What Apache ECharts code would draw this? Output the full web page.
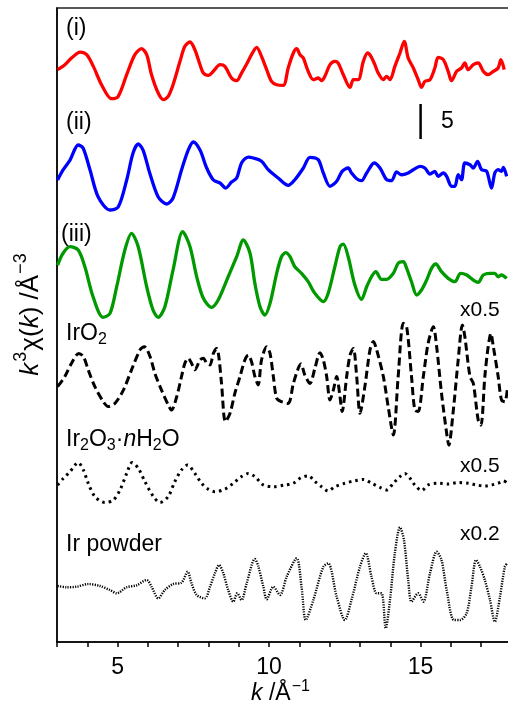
<!DOCTYPE html>
<html>
<head>
<meta charset="utf-8">
<script src="https://cdn.jsdelivr.net/npm/echarts@6/dist/echarts.min.js"></script>
<style>
  html, body { margin: 0; padding: 0; background: #fff; }
  #chart { width: 508px; height: 706px; }
</style>
</head>
<body>
<div id="chart"></div>
<script>
// k-space EXAFS spectra, k^3 chi(k); each entry is [k (1/Å), k^3 chi (Å^-3)]
const sampleI = [
  [3.02,0.05],[3.26,0.76],[3.48,1.71],[3.76,2.57],[3.98,2.19],[4.20,0.52],[4.47,-2.10],[4.80,-4.10],[5.02,-3.76],[5.30,-0.67],
  [5.57,2.19],[5.79,3.05],[5.96,2.19],[6.12,-0.67],[6.34,-3.29],[6.51,-4.24],[6.67,-3.76],[6.83,-2.10],[7.06,1.24],[7.22,3.38],
  [7.39,4.00],[7.55,2.90],[7.72,0.76],[7.83,-0.43],[7.99,-0.76],[8.16,-0.19],[8.38,0.76],[8.54,0.52],[8.76,-1.14],[8.93,-1.52],
  [9.09,-0.43],[9.26,0.86],[9.42,2.19],[9.59,3.24],[9.75,1.95],[9.92,0.05],[10.08,-1.62],[10.25,-2.10],[10.47,-2.19],[10.63,0.29],
  [10.80,2.43],[10.91,3.05],[11.02,2.19],[11.13,1.71],[11.29,-0.19],[11.46,-1.38],[11.62,-1.14],[11.73,-1.52],[11.84,-0.90],[12.01,0.76],
  [12.17,1.24],[12.28,1.00],[12.45,-0.67],[12.67,-2.48],[12.78,-1.38],[12.94,-1.38],[13.11,1.24],[13.25,2.43],[13.36,1.95],[13.49,0.76],
  [13.60,-0.43],[13.77,-1.38],[13.88,-0.90],[13.99,-1.38],[14.15,0.52],[14.32,2.43],[14.46,4.10],[14.59,1.71],[14.76,0.29],[14.92,-1.38],
  [15.03,-2.48],[15.14,-1.62],[15.31,-1.38],[15.47,0.29],[15.58,1.81],[15.75,1.48],[15.91,-0.19],[16.02,-1.52],[16.19,-0.19],[16.35,0.29],
  [16.46,1.00],[16.57,0.05],[16.74,0.76],[16.90,1.00],[17.07,-0.19],[17.23,-0.67],[17.40,-0.19],[17.56,0.29],[17.65,1.48],[17.76,0.05]
];
const sampleII = [
  [3.02,-0.14],[3.20,1.29],[3.43,2.71],[3.70,4.86],[3.86,4.43],[4.09,1.29],[4.36,-2.57],[4.75,-4.43],[5.02,-4.00],[5.30,-0.14],
  [5.51,3.71],[5.68,5.00],[5.84,4.14],[6.06,0.86],[6.34,-2.57],[6.62,-3.57],[6.83,-2.71],[7.11,1.29],[7.33,4.14],[7.50,5.29],
  [7.72,4.14],[7.94,1.57],[8.16,-0.14],[8.38,-0.57],[8.57,-1.29],[8.76,-0.43],[8.93,0.14],[9.09,2.29],[9.31,3.14],[9.48,3.00],
  [9.75,2.53],[9.97,1.33],[10.30,0.14],[10.63,-0.90],[10.85,-0.10],[11.13,1.57],[11.35,3.10],[11.62,2.76],[11.79,0.86],[12.01,-1.04],
  [12.23,-0.33],[12.41,1.10],[12.61,1.57],[12.72,0.86],[12.89,0.04],[13.05,-0.24],[13.22,0.86],[13.47,2.29],[13.66,1.57],[13.88,-0.10],
  [14.04,-0.24],[14.21,1.00],[14.37,0.61],[14.59,0.86],[14.76,1.33],[14.98,1.81],[15.14,1.57],[15.31,0.71],[15.47,1.10],[15.58,0.39],
  [15.75,0.86],[15.86,0.39],[16.02,-1.04],[16.13,-1.04],[16.24,0.61],[16.35,-0.10],[16.46,2.29],[16.63,2.04],[16.74,1.57],[16.88,2.53],
  [17.01,1.33],[17.18,1.10],[17.34,-1.29],[17.45,0.86],[17.56,1.33],[17.67,1.10],[17.73,1.67],[17.84,0.39]
];
const sampleIII = [
  [3.02,0.71],[3.20,2.39],[3.43,3.33],[3.70,2.86],[3.92,0.47],[4.19,-3.81],[4.52,-6.76],[4.75,-6.19],[4.97,-2.39],[5.24,2.86],
  [5.46,5.24],[5.68,3.33],[5.96,-2.39],[6.17,-5.71],[6.34,-6.76],[6.56,-5.24],[6.83,0.00],[7.15,5.47],[7.39,3.33],[7.61,-0.96],
  [7.83,-4.04],[8.10,-5.33],[8.32,-4.29],[8.65,-0.96],[8.93,1.90],[9.15,4.29],[9.37,2.39],[9.53,-1.90],[9.70,-5.24],[9.86,-6.43],
  [10.03,-4.76],[10.25,-0.47],[10.41,1.90],[10.55,2.47],[10.69,1.90],[10.85,0.47],[11.07,-0.47],[11.29,-1.67],[11.51,-3.33],[11.79,-4.53],
  [11.95,-3.33],[12.17,0.47],[12.34,3.33],[12.45,3.71],[12.61,1.90],[12.83,-2.14],[13.05,-4.19],[13.22,-2.39],[13.38,-0.96],[13.52,-0.24],
  [13.71,-1.33],[13.88,-1.33],[14.10,-0.47],[14.26,0.96],[14.43,1.19],[14.54,0.24],[14.70,-1.67],[14.87,-3.57],[15.03,-2.86],[15.20,-1.43],
  [15.36,0.24],[15.50,0.86],[15.69,-0.24],[15.91,-1.19],[16.13,-1.67],[16.32,-0.47],[16.52,-0.71],[16.74,-1.43],[16.90,-1.76],[17.07,-0.71],
  [17.29,-0.47],[17.45,-0.47],[17.56,-0.96],[17.67,-0.71],[17.84,-1.19]
];
const refIrO2 = [
  [3.02,-1.9],[3.26,1.0],[3.48,4.8],[3.72,7.6],[3.87,6.7],[4.03,2.9],[4.25,-1.9],[4.53,-6.2],[4.69,-7.6],[4.91,-6.7],
  [5.19,-2.9],[5.46,2.9],[5.74,8.6],[5.88,9.5],[6.07,6.7],[6.23,1.9],[6.45,-2.9],[6.67,-7.1],[6.78,-8.6],[6.95,-4.8],
  [7.11,1.0],[7.22,4.8],[7.33,6.2],[7.44,4.8],[7.55,2.9],[7.72,5.7],[7.83,6.2],[7.94,4.8],[8.05,4.3],[8.16,7.6],
  [8.27,9.0],[8.34,6.7],[8.43,-1.0],[8.56,-11.9],[8.71,-9.5],[8.87,-3.8],[9.04,1.0],[9.20,5.7],[9.31,7.1],[9.42,5.2],
  [9.53,1.0],[9.64,-1.4],[9.75,5.7],[9.92,9.5],[10.03,7.6],[10.14,1.0],[10.25,-5.2],[10.41,-6.2],[10.63,-6.7],[10.80,-1.0],
  [10.96,3.3],[11.05,4.6],[11.18,1.4],[11.35,-1.0],[11.51,3.3],[11.68,7.8],[11.79,5.7],[11.90,1.0],[12.01,-5.7],[12.12,-2.9],
  [12.23,1.0],[12.34,-4.8],[12.41,-9.0],[12.56,1.0],[12.67,7.1],[12.78,9.0],[12.89,1.0],[13.00,-9.5],[13.16,-1.9],[13.33,8.6],
  [13.44,11.0],[13.55,8.6],[13.77,1.0],[13.93,-7.6],[14.10,-15.7],[14.26,1.0],[14.43,16.2],[14.54,15.2],[14.70,1.0],[14.81,-8.6],
  [14.92,-9.0],[15.09,1.0],[15.25,10.5],[15.42,15.2],[15.53,9.5],[15.69,-3.8],[15.86,-15.2],[15.93,-18.6],[16.08,-8.6],[16.24,5.7],
  [16.38,15.7],[16.46,12.4],[16.63,1.0],[16.74,-1.0],[16.90,-11.4],[16.99,-12.9],[17.12,1.0],[17.23,9.5],[17.32,13.3],[17.40,9.5],
  [17.56,1.0],[17.67,-5.7],[17.78,-6.2],[17.87,-1.9]
];
const refIr2O3 = [
  [3.02,0],[3.21,1.9],[3.43,3.8],[3.70,6.4],[3.87,4.3],[4.03,0.5],[4.25,-3.3],[4.58,-5.0],[4.86,-4.3],[5.08,-1.4],
  [5.30,3.3],[5.48,6.4],[5.68,4.8],[5.90,1.0],[6.18,-3.3],[6.40,-5.0],[6.67,-3.3],[6.89,1.0],[7.11,4.3],[7.31,5.7],
  [7.55,3.3],[7.77,0.5],[7.99,-1.2],[8.21,-1.9],[8.54,-1.2],[8.82,0.5],[9.09,2.4],[9.31,3.3],[9.53,2.4],[9.81,0],
  [10.14,-0.5],[10.52,0],[10.80,0.5],[11.07,2.2],[11.29,2.6],[11.51,1.0],[11.73,-0.5],[11.95,-1.7],[12.17,-0.5],[12.50,0.5],
  [12.83,1.2],[13.11,1.6],[13.38,0.5],[13.66,-0.7],[13.88,-1.4],[14.10,0.5],[14.32,2.4],[14.48,3.3],[14.65,1.9],[14.81,0],
  [15.03,-1.6],[15.25,0],[15.58,0.5],[15.91,0.3],[16.24,0.7],[16.57,0.5],[16.85,0],[17.12,-0.3],[17.34,0],[17.56,0.5],
  [17.73,1.2],[17.84,0.7]
];
const refIrPowder = [
  [3.02,0],[3.32,-0.9],[3.65,-0.5],[4.03,1.4],[4.42,0],[4.75,-2.9],[4.97,-5.2],[5.30,-0.9],[5.63,0.5],[5.96,4.3],
  [6.12,-0.5],[6.34,-8.8],[6.56,-2.9],[6.83,1.4],[7.11,2.4],[7.31,10.2],[7.44,1.9],[7.61,-6.4],[7.88,-8.8],[8.05,-0.5],
  [8.21,9.0],[8.35,15.0],[8.49,9.0],[8.65,-2.9],[8.82,-11.2],[8.95,-5.2],[9.09,-10.0],[9.26,1.9],[9.53,19.3],[9.64,14.3],
  [9.81,-0.5],[9.92,-9.5],[10.14,-0.5],[10.36,-6.4],[10.58,6.6],[10.91,19.8],[11.07,-0.5],[11.21,-24.3],[11.46,-10.0],[11.79,13.8],
  [11.95,16.2],[12.23,-7.6],[12.50,-24.3],[12.72,-10.0],[13.00,13.8],[13.19,23.4],[13.38,6.6],[13.55,-5.2],[13.71,-5.2],[13.85,-30.2],
  [13.99,-10.0],[14.15,23.4],[14.32,41.9],[14.45,32.9],[14.59,4.3],[14.70,-11.2],[14.92,-5.2],[15.09,-11.2],[15.31,9.0],[15.53,24.5],
  [15.69,18.6],[15.86,-2.9],[16.10,-24.3],[16.30,-24.3],[16.52,-19.5],[16.68,-0.5],[16.83,18.6],[16.96,13.8],[17.12,4.3],[17.29,-10.0],
  [17.45,-25.5],[17.62,-7.6],[17.78,13.8],[17.86,16.2]
];

// vertical stacking offsets and display multipliers
const offsets = [81.71, 66.14, 53.14, 37.43, 22.43, 8.0];
const multipliers = [1, 1, 1, 0.5, 0.5, 0.2];
const multiplierLabels = ['', '', '', 'x0.5', 'x0.5', 'x0.2'];

// x axis
const kMin = 3, kMax = 18, kLabelStep = 5;
// y range of the stacked panel, in k^3 chi units
const yMin = 0, yMax = 90.57;
// scale bar: 5 units tall at k = 15
const scaleBarK = 15, scaleBarBottom = 71.86, scaleBarLen = 5;

const FONT = '"Liberation Sans", Arial, Helvetica, sans-serif';

function shifted(points, idx) {
  return points.map(p => [p[0], offsets[idx] + multipliers[idx] * p[1]]);
}

function lineSeries(name, points, idx, color, width, type) {
  return {
    name: name,
    type: 'line',
    data: shifted(points, idx),
    showSymbol: false,
    smooth: 0.3,
    silent: true,
    lineStyle: { color: color, width: width, type: type, cap: 'butt' },
    z: 3
  };
}

const chart = echarts.init(document.getElementById('chart'), null, { renderer: 'canvas' });

function txt(x, y, text, size, rich) {
  return {
    type: 'text',
    x: x, y: y,
    silent: true,
    style: {
      text: text,
      fill: '#000',
      fontSize: size,
      fontFamily: FONT,
      align: 'left',
      verticalAlign: 'middle',
      rich: rich || {}
    }
  };
}

function richSet(size, supLift, subDrop) {
  const small = Math.round(size * 0.68);
  return {
    m: { fontSize: size, fontFamily: FONT, fill: '#000' },
    it: { fontSize: size, fontFamily: FONT, fontStyle: 'italic', fill: '#000' },
    sub: { fontSize: small, fontFamily: FONT, fill: '#000', padding: [subDrop, 0, 0, 0] },
    sup: { fontSize: small, fontFamily: FONT, fill: '#000', padding: [0, 1, supLift, 1] }
  };
}

const R = richSet(23, 14, 12);
const RT = richSet(26, 19, 12);

const option = {
  animation: false,
  backgroundColor: '#fff',
  grid: {
    left: 57, top: 8, width: 454.5, bottom: 64,
    outerBoundsMode: 'none',
    containLabel: false,
    show: true, borderColor: '#222', borderWidth: 1.5, backgroundColor: 'transparent'
  },
  xAxis: {
    type: 'value',
    min: kMin, max: kMax, interval: 1,
    axisLine: { show: true, lineStyle: { color: '#000', width: 1.5 } },
    axisTick: { show: true, inside: false, length: 5, lineStyle: { color: '#000', width: 1.5 } },
    axisLabel: {
      show: true, margin: 14, color: '#000', fontSize: 23, fontFamily: FONT,
      formatter: v => (v % kLabelStep === 0 ? String(v) : '')
    },
    splitLine: { show: false }
  },
  yAxis: {
    type: 'value',
    min: yMin, max: yMax,
    axisLine: { show: true, lineStyle: { color: '#000', width: 1.5 } },
    axisTick: { show: false },
    axisLabel: { show: false },
    splitLine: { show: false }
  },
  series: [
    lineSeries('(i)', sampleI, 0, '#ff0000', 3.3, 'solid'),
    lineSeries('(ii)', sampleII, 1, '#0000ff', 3.3, 'solid'),
    lineSeries('(iii)', sampleIII, 2, '#009900', 3.3, 'solid'),
    lineSeries('IrO2', refIrO2, 3, '#000', 3, [8, 4]),
    lineSeries('Ir2O3', refIr2O3, 4, '#000', 3, [2.5, 4]),
    lineSeries('Ir powder', refIrPowder, 5, '#000', 2.4, [1.2, 1.3]),
    {
      name: 'scale',
      type: 'line',
      data: [[scaleBarK, scaleBarBottom], [scaleBarK, scaleBarBottom + scaleBarLen]],
      showSymbol: false,
      silent: true,
      lineStyle: { color: '#000', width: 2.5 },
      z: 4
    }
  ],
  graphic: [
    txt(66, 28.5, '(i)', 23),
    txt(66, 122.5, '(ii)', 23),
    txt(61, 235, '(iii)', 23),
    txt(66, 334, '{m|IrO}{sub|2}', 23, R),
    txt(66, 440, '{m|Ir}{sub|2}{m|O}{sub|3}{m|·}{it|n}{m|H}{sub|2}{m|O}', 23, R),
    txt(66, 545, 'Ir powder', 23),
    txt(460, 310, multiplierLabels[3], 21),
    txt(460, 466, multiplierLabels[4], 21),
    txt(460, 534, multiplierLabels[5], 21),
    txt(441, 122, String(scaleBarLen), 23),
    {
      type: 'text',
      x: 31, y: 314,
      rotation: Math.PI / 2,
      silent: true,
      style: {
        text: '{it|k}{sup|3}{m|χ(}{it|k}{m|) /Å}{sup|−3}',
        fill: '#000', fontSize: 26, fontFamily: FONT,
        align: 'center', verticalAlign: 'middle',
        rich: RT
      }
    },
    {
      type: 'text',
      x: 281, y: 694,
      silent: true,
      style: {
        text: '{it|k}{m| /Å}{sup|−1}',
        fill: '#000', fontSize: 23, fontFamily: FONT,
        align: 'center', verticalAlign: 'middle',
        rich: R
      }
    }
  ]
};

chart.setOption(option);
</script>
</body>
</html>
